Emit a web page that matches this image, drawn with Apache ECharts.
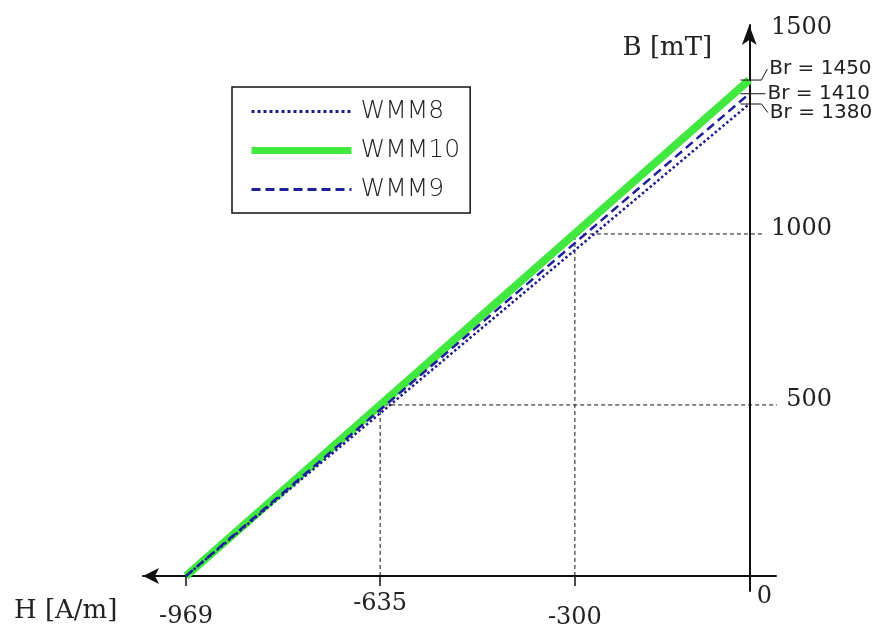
<!DOCTYPE html>
<html>
<head>
<meta charset="utf-8">
<script src="https://cdn.jsdelivr.net/npm/echarts@6/dist/echarts.min.js"></script>
<style>
  html, body { margin: 0; padding: 0; background: #fff; }
  #bh-chart { width: 880px; height: 626px; }
</style>
</head>
<body>
<div id="bh-chart"></div>
<script>
// H points of each demagnetisation line (A/m)
const hPoints = [-969, 0];
// B values at those points (mT)
const wmm8 = [0, 1380];
const wmm10 = [0, 1450];
const wmm9 = [0, 1410];
// remanence values marked on the B axis
const brValues = [1450, 1410, 1380];
// tick labels
const hTicks = [-969, -635, -300, 0];
const bTicks = [500, 1000, 1500];
// dashed read-off guides (H, B)
const guideH = [-635, -300];
const guideB = [500, 1000];

const serif = 'DejaVu Serif';
const sans = 'DejaVu Sans';

function toPairs(ys) {
  return hPoints.map((h, i) => [h, ys[i]]);
}

// 主曲线
const mainSeries = [
  { name: 'WMM10', data: toPairs(wmm10), color: '#40e840', width: 8, type: 'solid' },
  { name: 'WMM8', data: toPairs(wmm8), color: '#1c1c8e', width: 2.5, type: 'dotted' },
  { name: 'WMM9', data: toPairs(wmm9), color: '#1f1f9c', width: 2.5, type: [9, 5] }
].map(s => ({
  name: s.name,
  type: 'line',
  data: s.data,
  symbol: 'none',
  color: s.color,
  lineStyle: { color: s.color, width: s.width, type: s.type, cap: 'butt' },
  z: s.name === 'WMM10' ? 2 : 3
}));

// 虚线辅助线
const guideSeries = guideH.map((h, i) => ({
  type: 'line',
  data: [[h, 0], [h, guideB[i]], [i === 0 ? 50 : 22, guideB[i]]],
  symbol: 'none',
  clip: false,
  silent: true,
  lineStyle: { color: '#111', width: 1, type: [4, 3] },
  z: 1
}));

// Br 标记 (短线 + 引线 + 文字)
const brLeader = { 1450: [[21, 1450], [31, 1482]], 1410: [[28, 1410]], 1380: [[21, 1380], [32, 1355]] };
const brSeries = brValues.map(v => ({
  type: 'line',
  data: [[-15, v]].concat(brLeader[v]),
  symbol: 'none',
  clip: false,
  silent: true,
  lineStyle: { color: '#111', width: 1 },
  endLabel: {
    show: true,
    formatter: 'Br = ' + v,
    distance: 2,
    fontFamily: sans,
    fontSize: 20,
    color: '#222'
  },
  z: 4
}));

// 刻度文字的上下偏移
const xLabelPad = { '-969': [24, 0, 0, 0], '-635': [0, 0, 2, 0], '-300': [26, 0, 0, 0], '0': [0, 0, 16, 30] };
const xRich = {};
hTicks.forEach((t, i) => {
  xRich['x' + i] = { fontFamily: serif, fontSize: 24, lineHeight: 26, color: '#222', padding: xLabelPad[String(t)] };
});
const yRich = {
  n: { fontFamily: serif, fontSize: 24, lineHeight: 26, color: '#222', padding: [0, 0, 10, 0] },
  top: { fontFamily: serif, fontSize: 24, lineHeight: 26, color: '#222', padding: [0, 0, 70, 0] }
};

const option = {
  animation: false,
  backgroundColor: '#fff',
  title: {
    text: 'H [A/m]',
    left: 14,
    top: 598,
    padding: 0,
    textStyle: { fontFamily: serif, fontSize: 26, fontWeight: 'normal', color: '#222' }
  },
  grid: { left: 143, right: 104, top: 25, bottom: 35, outerBoundsMode: 'none' },
  legend: {
    data: [
      { name: 'WMM8', lineStyle: { width: 3 } },
      { name: 'WMM10', lineStyle: { width: 7 } },
      { name: 'WMM9', lineStyle: { width: 3 } }
    ],
    orient: 'vertical',
    left: 232,
    top: 87,
    itemWidth: 100,
    itemHeight: 14,
    itemGap: 14,
    padding: [12, 10, 11, 16],
    borderColor: '#111',
    borderWidth: 1.5,
    itemStyle: { opacity: 0 },
    textStyle: { fontFamily: sans, fontSize: 25, color: '#222', fontWeight: 200, padding: [0, 0, 0, 4] }
  },
  xAxis: {
    type: 'value',
    min: -1043,
    max: 46,
    axisLine: { onZero: true, symbol: ['arrow', 'none'], symbolSize: [12, 16], lineStyle: { color: '#111', width: 2 } },
    axisTick: { show: true, customValues: hTicks.slice(0, 3), length: 10, lineStyle: { color: '#111', width: 1.5 } },
    axisLabel: {
      customValues: hTicks,
      margin: 1,
      formatter: v => '{x' + hTicks.indexOf(v) + '|' + v + '}',
      rich: xRich
    },
    splitLine: { show: false }
  },
  yAxis: {
    type: 'value',
    position: 'right',
    min: -44,
    max: 1611,
    name: 'B [mT]',
    nameLocation: 'end',
    nameGap: -10,
    nameTextStyle: { fontFamily: serif, fontSize: 26, color: '#222', align: 'right', verticalAlign: 'top', padding: [0, 37, 0, 0] },
    axisLine: { onZero: true, symbol: ['none', 'arrow'], symbolSize: [11, 20], lineStyle: { color: '#111', width: 2 } },
    axisTick: { show: false },
    axisLabel: {
      customValues: bTicks,
      align: 'right',
      margin: 56,
      formatter: v => (v === 1500 ? '{top|' : '{n|') + v + '}',
      rich: yRich
    },
    splitLine: { show: false }
  },
  series: guideSeries.concat(mainSeries, brSeries)
};

const bhChart = echarts.init(document.getElementById('bh-chart'));
bhChart.setOption(option);
</script>
</body>
</html>
